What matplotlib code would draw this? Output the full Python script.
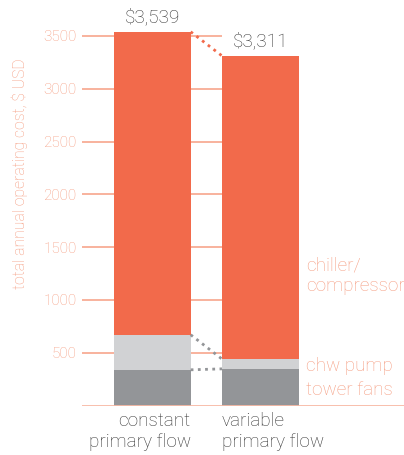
import matplotlib
matplotlib.use('Agg')
import matplotlib.pyplot as plt
import numpy as np

# datos
categories = ["constant\nprimary flow", "variable\nprimary flow"]
tower_fans = [338, 347]
chw_pump = [332, 93]
chiller = [2869, 2871]
totals_label = ["$3,539", "$3,311"]
y_ticks = [500, 1000, 1500, 2000, 2500, 3000, 3500]

RED = "#F26A4B"
LIGHT = "#D1D2D4"
DARK = "#939598"
SALMON = "#F59C80"
TEXT = "#333333"

plt.rcParams['font.family'] = ['Roboto', 'DejaVu Sans']
FW = 'light'
FS = 13.6

fig = plt.figure(figsize=(4.04, 4.55), dpi=100)
ax = fig.add_axes([82 / 404, 49.5 / 455, 322 / 404, 405.5 / 455])

x = np.arange(len(categories))
w = 0.71
tower = np.array(tower_fans)
pump = np.array(chw_pump)
chill = np.array(chiller)
totals = tower + pump + chill

ax.set_xlim(-0.651, 2.33)
ax.set_ylim(0, 3840)

# lineas de referencia (solo hasta la segunda barra)
for t in y_ticks:
    ax.plot([-0.651, x[1] - w / 2], [t, t], color="#F8AD95", lw=1.3, zorder=0,
            solid_capstyle='butt')
ax.axhline(0, color="#F8B9A5", lw=2, zorder=3)

ax.bar(x, tower, w, color=DARK, zorder=2)
ax.bar(x, pump, w, bottom=tower, color=LIGHT, zorder=2)
ax.bar(x, chill, w, bottom=tower + pump, color=RED, zorder=2)

# conectores punteados
x0, x1 = x[0] + w / 2, x[1] - w / 2
ax.plot([x0, x1], [totals[0], totals[1]], ls=(0, (1, 1.6)), color=RED, lw=2)
ax.plot([x0, x1], [tower[0] + pump[0], tower[1] + pump[1]], ls=(0, (1, 1.6)),
        color=DARK, lw=2)
ax.plot([x0, x1], [tower[0], tower[1]], ls=(0, (1, 1.6)), color=DARK, lw=2)

for i in range(len(x)):
    ax.text(x[i], totals[i] + 55, totals_label[i], ha="center", va="bottom",
            fontsize=FS, color=TEXT, fontweight=FW)

# etiquetas de categoria
ax.text(x[0] + w / 2, -65, categories[0], ha="right", va="top", fontsize=FS,
        color=TEXT, fontweight=FW, linespacing=1.2)
ax.text(x[1] - w / 2, -65, categories[1], ha="left", va="top", fontsize=FS,
        color=TEXT, fontweight=FW, linespacing=1.2)

# leyenda a la derecha
lx = x[1] + w / 2 + 0.07
ax.text(lx, 1230, "chiller/\ncompressor", ha="left", va="center", fontsize=FS,
        color=SALMON, fontweight=FW, linespacing=1.2)
ax.text(lx, 375, "chw pump", ha="left", va="center", fontsize=FS,
        color=SALMON, fontweight=FW)
ax.text(lx, 150, "tower fans", ha="left", va="center", fontsize=FS,
        color=SALMON, fontweight=FW)

ax.set_yticks(y_ticks)
ax.set_yticklabels([str(t) for t in y_ticks], fontsize=11, color=SALMON,
                   fontweight=FW)
ax.tick_params(axis='y', length=0, pad=4)
ax.set_xticks([])
for s in ax.spines.values():
    s.set_visible(False)

fig.text(20 / 404, 1 - 174 / 455, "total annual operating cost, $ USD",
         rotation=90, ha="center", va="center", fontsize=11.3, color=SALMON,
         fontweight=FW)

fig.savefig("out.png", dpi=100, facecolor="white")
